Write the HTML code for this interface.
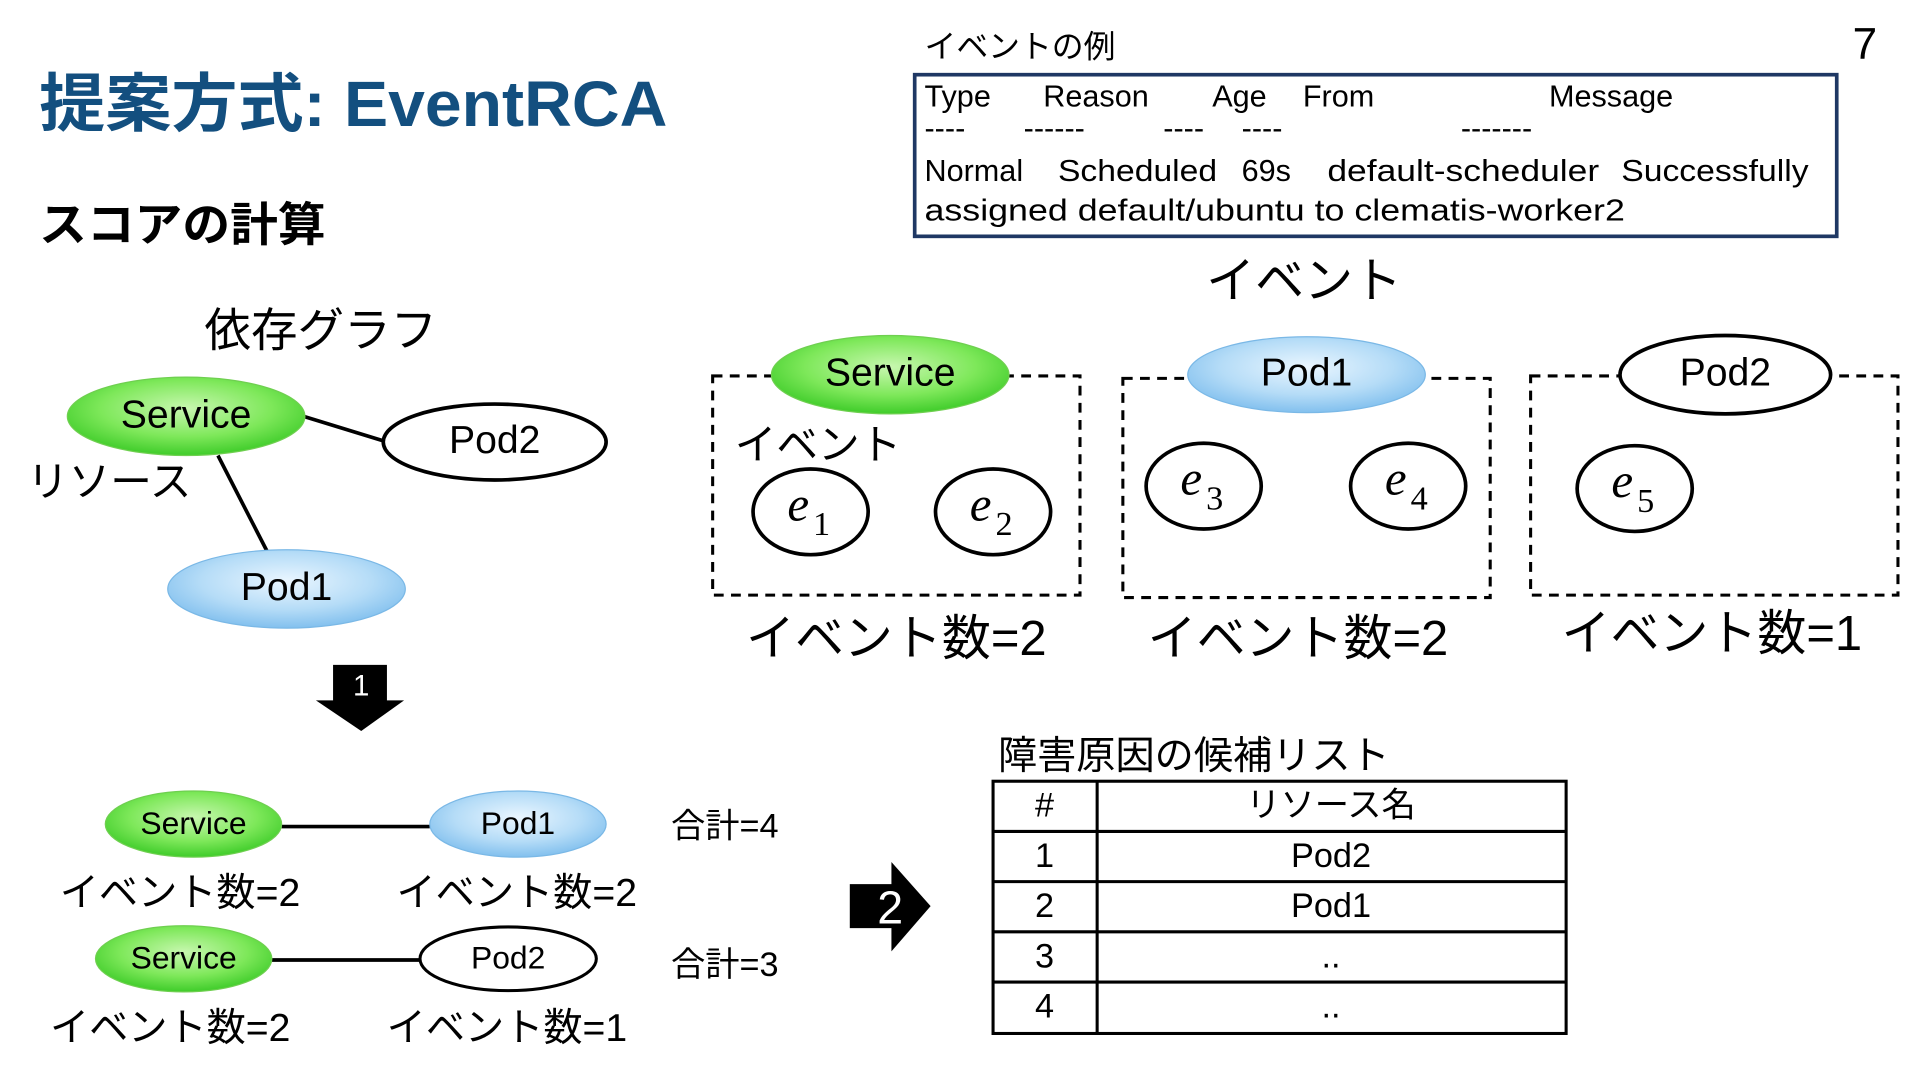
<!DOCTYPE html>
<html><head><meta charset="utf-8"><style>
html,body{margin:0;padding:0;background:#fff;}
svg{display:block;}
text{font-family:"Liberation Sans","Noto Sans CJK JP",sans-serif;fill:#000;}
.it{font-family:"Liberation Serif","DejaVu Serif",serif;font-style:italic;}
</style></head><body>
<svg width="1920" height="1080" viewBox="0 0 1568 882" xmlns="http://www.w3.org/2000/svg">
<defs>
<radialGradient id="g" cx="50%" cy="40%" r="60%"><stop offset="0" stop-color="#c8f7b0"/><stop offset="0.6" stop-color="#7ee85a"/><stop offset="1" stop-color="#3fcc2a"/></radialGradient>
<radialGradient id="b" cx="50%" cy="40%" r="60%"><stop offset="0" stop-color="#eaf6ff"/><stop offset="0.6" stop-color="#b5dcf7"/><stop offset="1" stop-color="#82c0ee"/></radialGradient>
</defs>
<text x="32" y="103" font-size="52" font-weight="bold" style="fill:#134f7f" textLength="513" lengthAdjust="spacingAndGlyphs">提案方式: EventRCA</text>
<text x="32" y="197" font-size="38" font-weight="bold" textLength="234" lengthAdjust="spacingAndGlyphs">スコアの計算</text>
<text x="1513" y="48" font-size="36">7</text>
<text x="755" y="47" font-size="26">イベントの例</text>
<rect x="747" y="61" width="753" height="132" fill="none" stroke="#1f3864" stroke-width="3"/>
<g font-size="25">
<text x="755" y="87">Type</text><text x="852" y="87">Reason</text><text x="990" y="87">Age</text><text x="1064" y="87">From</text><text x="1265" y="87">Message</text>
<text x="755" y="113">----</text><text x="836" y="113">------</text><text x="950" y="113">----</text><text x="1014" y="113">----</text><text x="1193" y="113">-------</text>
<text x="755" y="148">Normal</text><text x="864" y="148" textLength="130" lengthAdjust="spacingAndGlyphs">Scheduled</text><text x="1014" y="148">69s</text><text x="1084" y="148" textLength="222" lengthAdjust="spacingAndGlyphs">default-scheduler</text><text x="1324" y="148" textLength="153" lengthAdjust="spacingAndGlyphs">Successfully</text>
<text x="755" y="180" textLength="572" lengthAdjust="spacingAndGlyphs">assigned default/ubuntu to clematis-worker2</text>
</g>
<text x="1065" y="243" font-size="40" text-anchor="middle">イベント</text>
<text x="262" y="283" font-size="38" text-anchor="middle">依存グラフ</text>
<g stroke="#000" stroke-width="3">
<line x1="248" y1="340" x2="313" y2="360"/><line x1="178" y1="372" x2="218" y2="450"/>
</g>
<ellipse cx="152" cy="340" rx="97" ry="32" fill="url(#g)" stroke="#6fcf50"/>
<text x="152" y="349" font-size="32" text-anchor="middle">Service</text>
<ellipse cx="404" cy="361" rx="91" ry="31" fill="#fff" stroke="#000" stroke-width="3"/>
<text x="404" y="370" font-size="32" text-anchor="middle">Pod2</text>
<ellipse cx="234" cy="481" rx="97" ry="32" fill="url(#b)" stroke="#7ab8e6"/>
<text x="234" y="490" font-size="32" text-anchor="middle">Pod1</text>
<text x="22" y="405" font-size="34">リソース</text>
<polygon points="272,543 316,543 316,572 330,572 295,597 258,572 272,572" fill="#000"/>
<text x="295" y="568" font-size="24" text-anchor="middle" style="fill:#fff">1</text>
<g fill="none" stroke="#000" stroke-width="2.5" stroke-dasharray="8,6">
<rect x="582" y="307" width="300" height="179"/><rect x="917" y="309" width="300" height="179"/><rect x="1250" y="307" width="300" height="179"/>
</g>
<ellipse cx="727" cy="306" rx="97" ry="32" fill="url(#g)" stroke="#6fcf50"/>
<text x="727" y="315" font-size="32" text-anchor="middle">Service</text>
<ellipse cx="1067" cy="306" rx="97" ry="31" fill="url(#b)" stroke="#7ab8e6"/>
<text x="1067" y="315" font-size="32" text-anchor="middle">Pod1</text>
<ellipse cx="1409" cy="306" rx="86" ry="32" fill="#fff" stroke="#000" stroke-width="3"/>
<text x="1409" y="315" font-size="32" text-anchor="middle">Pod2</text>
<text x="600" y="375" font-size="34">イベント</text>
<g fill="#fff" stroke="#000" stroke-width="3">
<ellipse cx="662" cy="418" rx="47" ry="35"/><ellipse cx="811" cy="418" rx="47" ry="35"/>
<ellipse cx="983" cy="397" rx="47" ry="35"/><ellipse cx="1150" cy="397" rx="47" ry="35"/>
<ellipse cx="1335" cy="399" rx="47" ry="35"/>
</g>
<g font-size="40">
<text x="643" y="425" class="it">e</text><text x="664" y="437" class="it" font-size="28" style="font-style:normal">1</text>
<text x="792" y="425" class="it">e</text><text x="813" y="437" class="it" font-size="28" style="font-style:normal">2</text>
<text x="964" y="404" class="it">e</text><text x="985" y="416" class="it" font-size="28" style="font-style:normal">3</text>
<text x="1131" y="404" class="it">e</text><text x="1152" y="416" class="it" font-size="28" style="font-style:normal">4</text>
<text x="1316" y="406" class="it">e</text><text x="1337" y="418" class="it" font-size="28" style="font-style:normal">5</text>
</g>
<text x="732" y="535" font-size="40" text-anchor="middle">イベント数=2</text>
<text x="1060" y="535" font-size="40" text-anchor="middle">イベント数=2</text>
<text x="1398" y="531" font-size="40" text-anchor="middle">イベント数=1</text>
<line x1="230" y1="675" x2="351" y2="675" stroke="#000" stroke-width="3"/>
<ellipse cx="158" cy="673" rx="72" ry="27" fill="url(#g)" stroke="#6fcf50"/>
<text x="158" y="681" font-size="26" text-anchor="middle">Service</text>
<ellipse cx="423" cy="673" rx="72" ry="27" fill="url(#b)" stroke="#7ab8e6"/>
<text x="423" y="681" font-size="26" text-anchor="middle">Pod1</text>
<text x="147" y="740" font-size="32" text-anchor="middle">イベント数=2</text>
<text x="422" y="740" font-size="32" text-anchor="middle">イベント数=2</text>
<text x="548" y="684" font-size="28">合計=4</text>
<line x1="222" y1="784" x2="343" y2="784" stroke="#000" stroke-width="3"/>
<ellipse cx="150" cy="783" rx="72" ry="27" fill="url(#g)" stroke="#6fcf50"/>
<text x="150" y="791" font-size="26" text-anchor="middle">Service</text>
<ellipse cx="415" cy="783" rx="72" ry="26" fill="#fff" stroke="#000" stroke-width="2.5"/>
<text x="415" y="791" font-size="26" text-anchor="middle">Pod2</text>
<text x="139" y="850" font-size="32" text-anchor="middle">イベント数=2</text>
<text x="414" y="850" font-size="32" text-anchor="middle">イベント数=1</text>
<text x="548" y="797" font-size="28">合計=3</text>
<polygon points="694,722 728,722 728,704 760,740 728,777 728,758 694,758" fill="#000"/>
<text x="727" y="754" font-size="38" text-anchor="middle" style="fill:#fff">2</text>
<text x="815" y="628" font-size="32">障害原因の候補リスト</text>
<g stroke="#000" stroke-width="2.5" fill="none">
<rect x="811" y="638" width="468" height="206"/>
<line x1="811" y1="679" x2="1279" y2="679"/><line x1="811" y1="720" x2="1279" y2="720"/>
<line x1="811" y1="761" x2="1279" y2="761"/><line x1="811" y1="802" x2="1279" y2="802"/>
<line x1="896" y1="638" x2="896" y2="844"/>
</g>
<g font-size="28" text-anchor="middle">
<text x="853" y="667">#</text><text x="1087" y="667">リソース名</text>
<text x="853" y="708">1</text><text x="1087" y="708">Pod2</text>
<text x="853" y="749">2</text><text x="1087" y="749">Pod1</text>
<text x="853" y="790">3</text><text x="1087" y="790">..</text>
<text x="853" y="831">4</text><text x="1087" y="831">..</text>
</g>
</svg>
</body></html>
